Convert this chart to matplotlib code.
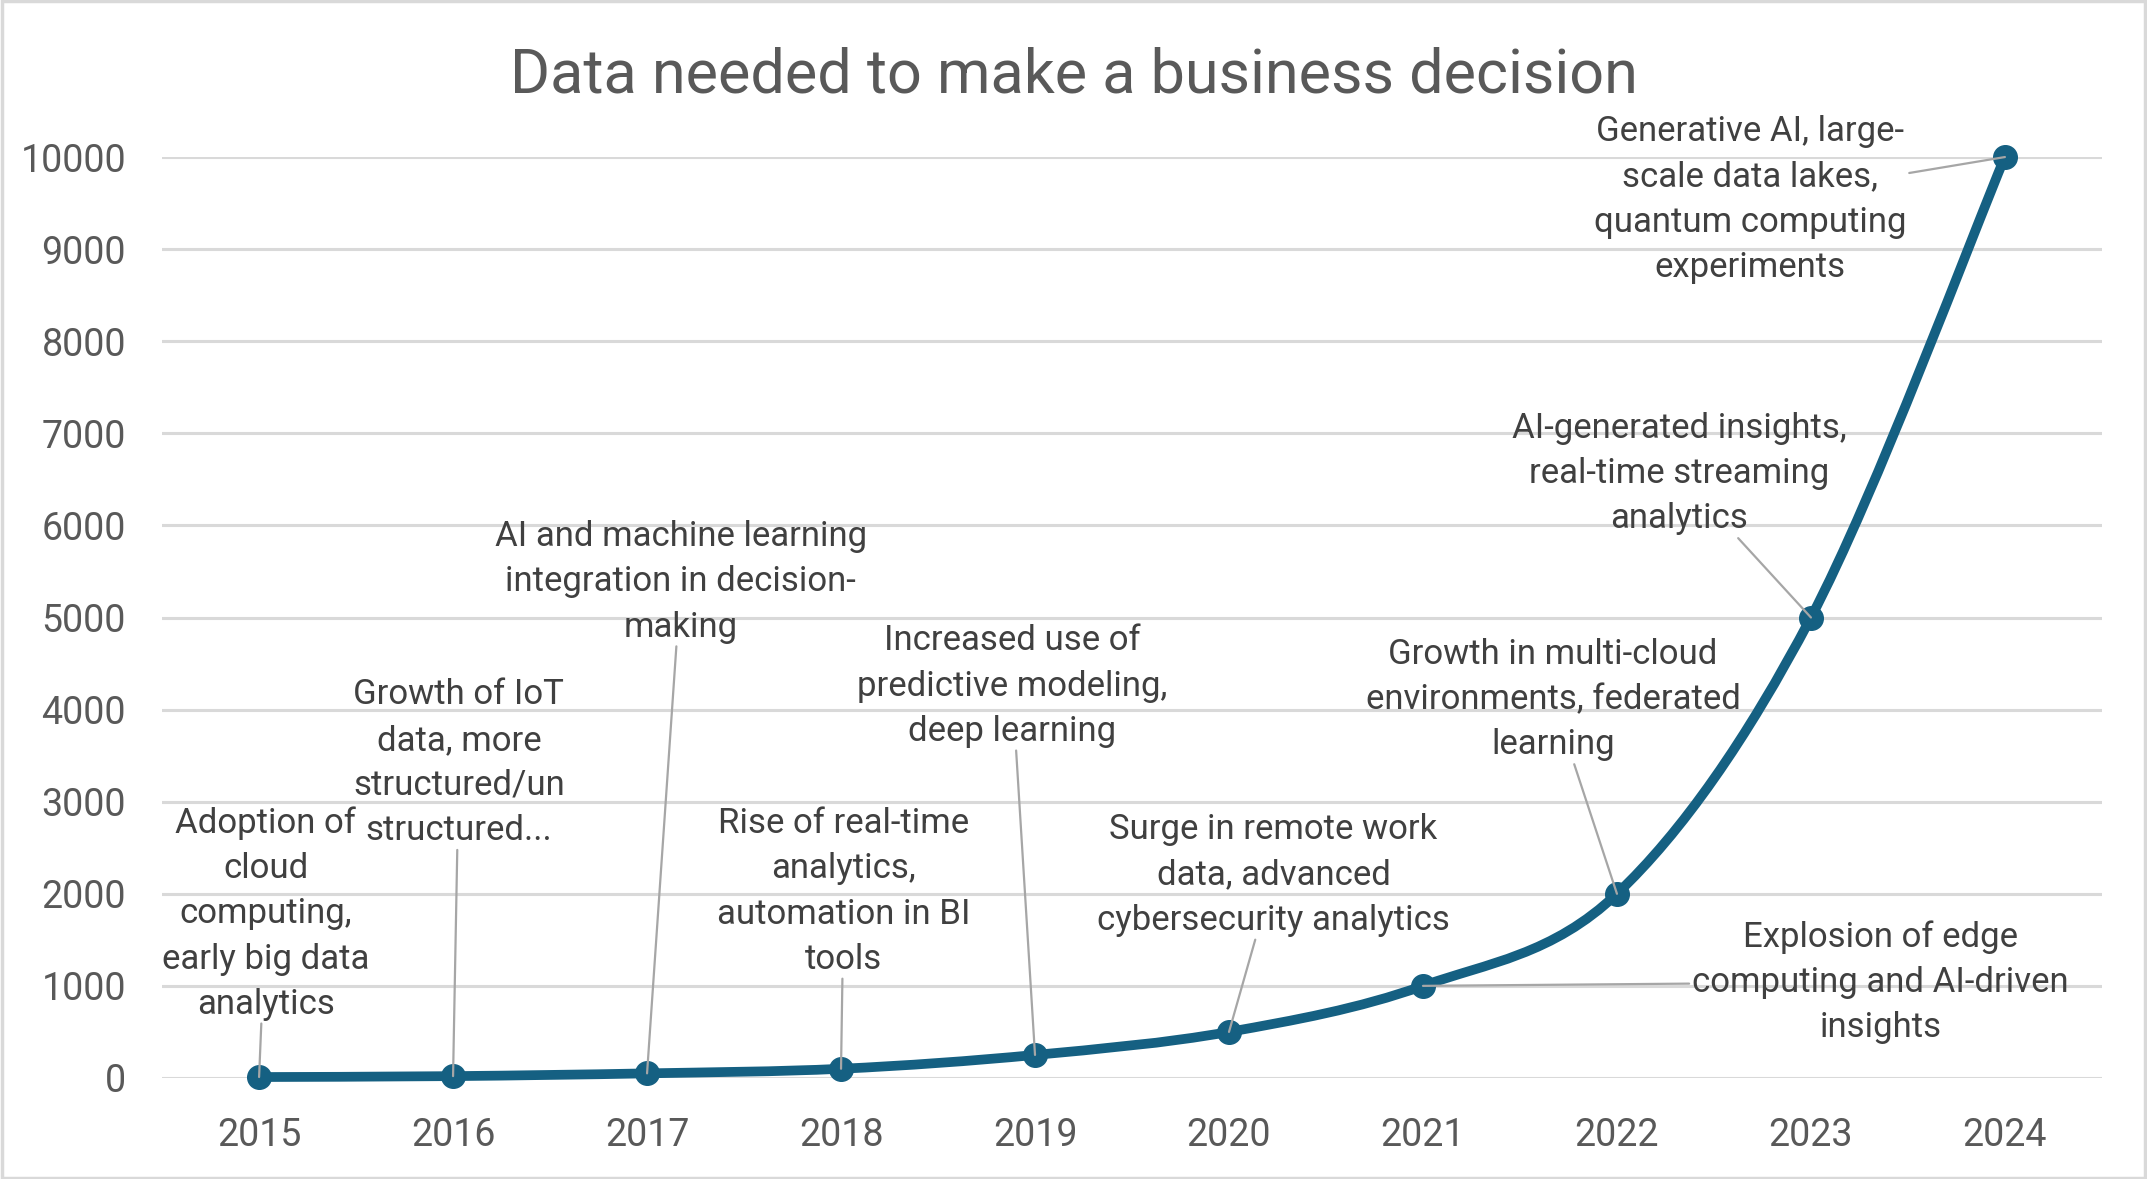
import matplotlib.pyplot as plt
from matplotlib.path import Path
from matplotlib.patches import PathPatch, Rectangle
import numpy as np

plt.rcParams['font.family'] = ['Roboto', 'DejaVu Sans']

# Data
years = ["2015", "2016", "2017", "2018", "2019", "2020", "2021", "2022", "2023", "2024"]
data_needed = [10, 20, 50, 100, 250, 500, 1000, 2000, 5000, 10000]
notes = [
    "Adoption of\ncloud\ncomputing,\nearly big data\nanalytics",
    "Growth of IoT\ndata, more\nstructured/un\nstructured...",
    "AI and machine learning\nintegration in decision-\nmaking",
    "Rise of real-time\nanalytics,\nautomation in BI\ntools",
    "Increased use of\npredictive modeling,\ndeep learning",
    "Surge in remote work\ndata, advanced\ncybersecurity analytics",
    "Explosion of edge\ncomputing and AI-driven\ninsights",
    "Growth in multi-cloud\nenvironments, federated\nlearning",
    "AI-generated insights,\nreal-time streaming\nanalytics",
    "Generative AI, large-\nscale data lakes,\nquantum computing\nexperiments",
]

# where each note sits (layout only)
note_pos = [(0.035, 1786), (1.03, 3422), (2.174, 5387), (3.014, 2024), (3.882, 4256),
            (5.23, 2202), (8.357, 1042), (6.67, 4107), (7.32, 6562), (7.687, 9539)]

line_color = "#156082"
grid_color = "#D9D9D9"
text_color = "#404040"
tick_color = "#595959"

fig = plt.figure(figsize=(21.47, 11.79), dpi=100)
ax = fig.add_axes([0.0755, 0.0857, 0.9035, 0.7811])

x = np.arange(len(years))
y = np.array(data_needed, dtype=float)

# smoothed line like Excel (Catmull-Rom as bezier segments)
verts = [(x[0], y[0])]
codes = [Path.MOVETO]
for i in range(len(x) - 1):
    p0 = (x[max(i - 1, 0)], y[max(i - 1, 0)])
    p1 = (x[i], y[i])
    p2 = (x[i + 1], y[i + 1])
    p3 = (x[min(i + 2, len(x) - 1)], y[min(i + 2, len(x) - 1)])
    c1 = (p1[0] + (p2[0] - p0[0]) / 6, p1[1] + (p2[1] - p0[1]) / 6)
    c2 = (p2[0] - (p3[0] - p1[0]) / 6, p2[1] - (p3[1] - p1[1]) / 6)
    verts += [c1, c2, p2]
    codes += [Path.CURVE4] * 3
curve = PathPatch(Path(verts, codes), facecolor="none", edgecolor=line_color,
                  linewidth=7, capstyle="round", joinstyle="round", clip_on=False, zorder=3)
ax.add_patch(curve)
ax.plot(x, y, linestyle="none", marker="o", markersize=17, color=line_color,
        clip_on=False, zorder=4)

for i in range(len(x)):
    ax.annotate(notes[i], xy=(x[i], y[i]), xytext=note_pos[i],
                ha="center", va="center", fontsize=25, color=text_color,
                linespacing=1.47, zorder=5,
                arrowprops=dict(arrowstyle="-", color="#A6A6A6", lw=1.6,
                                shrinkA=0, shrinkB=0))

ax.set_xlim(-0.5, len(years) - 0.5)
ax.set_ylim(0, 10000)
ax.set_yticks(range(0, 10001, 1000))
ax.set_xticks(x)
ax.set_xticklabels(years)
ax.yaxis.grid(True, color=grid_color, linewidth=2.2)
ax.set_axisbelow(True)
for s in ax.spines.values():
    s.set_visible(False)
ax.tick_params(length=0, labelsize=27, colors=tick_color)
ax.tick_params(axis="y", pad=26)
ax.tick_params(axis="x", pad=28)

fig.text(0.5, 0.936, "Data needed to make a business decision", ha="center", va="center",
         fontsize=44, color=tick_color)

fig.patches.append(Rectangle((0.001, 0.001), 0.998, 0.998, transform=fig.transFigure,
                             fill=False, edgecolor=grid_color, linewidth=2.5))

plt.savefig("out.png", dpi=100)
